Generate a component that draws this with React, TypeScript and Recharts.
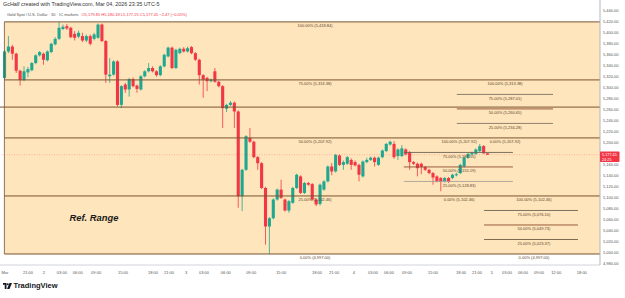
import React from 'react';
import {
  ComposedChart,
  Bar,
  XAxis,
  YAxis,
  ReferenceArea,
  ReferenceLine,
  ReferenceDot,
} from 'recharts';

// 30m candles (oldest first)
const opens = [
  5317, 5365, 5374, 5361, 5330, 5313, 5327, 5331, 5344, 5358, 5361, 5349, 5364, 5378, 5388, 5406, 5411, 5408, 5397, 5392,
  5393, 5385, 5393, 5388, 5390, 5414, 5384, 5320, 5323, 5347, 5268, 5305, 5296, 5315, 5303, 5296, 5320, 5329, 5335, 5329,
  5322, 5338, 5356, 5372, 5335, 5362, 5370, 5365, 5373, 5362, 5350, 5322, 5317, 5311, 5329, 5310, 5302, 5261, 5268, 5272,
  5256, 5102, 5150, 5208, 5201, 5173, 5162, 5117, 5047, 5062, 5096, 5114, 5096, 5076, 5090, 5117, 5138, 5108, 5126, 5124,
  5096, 5088, 5114, 5129, 5156, 5147, 5176, 5159, 5161, 5168, 5164, 5159, 5138, 5164, 5168, 5172, 5159, 5173, 5184, 5196,
  5197, 5175, 5175, 5187, 5182, 5164, 5161, 5161, 5155, 5150, 5144, 5138, 5135, 5129, 5135, 5135, 5140, 5144, 5156, 5172,
  5178, 5179, 5184, 5193, 5179.85,
];
const highs = [
  5368, 5393, 5377, 5363, 5332, 5338, 5337, 5346, 5360, 5366, 5363, 5367, 5381, 5391, 5418.84, 5414, 5415, 5410, 5402, 5403,
  5399, 5396, 5396, 5399, 5416, 5416, 5386, 5353, 5349, 5349, 5304, 5308, 5317, 5318, 5305, 5322, 5331, 5344, 5338, 5331,
  5340, 5361, 5374, 5374, 5370, 5372, 5373, 5374, 5375, 5364, 5352, 5324, 5319, 5316, 5335, 5312, 5304, 5270, 5275, 5274,
  5258, 5152, 5213, 5226, 5203, 5175, 5164, 5119, 5064, 5098, 5116, 5132, 5098, 5095, 5119, 5143, 5140, 5128, 5128, 5126,
  5098, 5125, 5131, 5158, 5162, 5179, 5178, 5167, 5175, 5171, 5167, 5161, 5167, 5172, 5174, 5174, 5174, 5187, 5199, 5203,
  5202, 5189, 5195, 5189, 5184, 5166, 5163, 5163, 5157, 5152, 5146, 5140, 5137, 5137, 5137, 5143, 5145, 5161, 5174, 5181,
  5183, 5189, 5197, 5195, 5180.18,
];
const lows = [
  5314, 5362, 5350, 5326, 5303, 5311, 5318, 5329, 5342, 5356, 5341, 5347, 5362, 5376, 5386, 5404, 5404, 5389, 5385, 5389,
  5382, 5382, 5376, 5385, 5388, 5382, 5308, 5308, 5321, 5265, 5262, 5290, 5283, 5300, 5290, 5294, 5318, 5327, 5327, 5319,
  5320, 5336, 5354, 5333, 5333, 5360, 5363, 5363, 5360, 5348, 5305, 5281, 5293, 5309, 5308, 5300, 5226, 5255, 5266, 5226,
  5081, 5075, 5148, 5199, 5171, 5150, 5115, 5014, 4997, 5060, 5094, 5097, 5074, 5072, 5088, 5115, 5106, 5106, 5121, 5094,
  5084, 5085, 5112, 5127, 5140, 5145, 5157, 5150, 5159, 5150, 5156, 5129, 5136, 5162, 5166, 5156, 5157, 5171, 5182, 5194,
  5170, 5168, 5173, 5176, 5150, 5159, 5138, 5142, 5148, 5142, 5123, 5127, 5111, 5127, 5126, 5133, 5138, 5142, 5154, 5170,
  5176, 5177, 5182, 5179, 5177.25,
];
const closes = [
  5365, 5374, 5361, 5330, 5313, 5329, 5333, 5344, 5358, 5364, 5350, 5365, 5379, 5388, 5408, 5410, 5407, 5391, 5390, 5399,
  5385, 5393, 5379, 5396, 5414, 5384, 5323, 5323, 5347, 5268, 5302, 5296, 5315, 5302, 5297, 5320, 5329, 5335, 5329, 5322,
  5338, 5359, 5372, 5335, 5368, 5370, 5365, 5371, 5362, 5350, 5322, 5314, 5311, 5314, 5310, 5302, 5262, 5268, 5272, 5256,
  5102, 5150, 5211, 5201, 5173, 5162, 5117, 5047, 5062, 5096, 5114, 5099, 5076, 5093, 5117, 5141, 5108, 5126, 5123, 5096,
  5087, 5123, 5129, 5156, 5147, 5177, 5159, 5164, 5173, 5159, 5158, 5141, 5165, 5168, 5172, 5164, 5172, 5185, 5197, 5201,
  5173, 5187, 5189, 5178, 5164, 5161, 5153, 5155, 5150, 5144, 5136, 5129, 5128, 5135, 5128, 5141, 5142, 5159, 5172, 5179,
  5181, 5187, 5193, 5180, 5177.45,
];

// time axis labels and the bar index they sit on
const timeTickAt = [
  0, 5.9, 10, 14.6, 18.7, 23.4, 30.3, 38, 42.1, 46.5, 51.1, 56.7, 63.2, 70.9, 80.1, 84.5, 89.6, 94.5, 98.6, 103.2, 109.9,
  117.1, 121.2, 125, 128.9, 133, 137.1, 141.5, 148.1,
];
const timeTickLabels = [
  'Mar', '21:00', '2', '03:00', '06:00', '09:00', '15:00', '18:00', '21:00', '3', '03:00', '06:00', '09:00', '15:00',
  '18:00', '21:00', '4', '03:00', '06:00', '09:00', '15:00', '18:00', '21:00', '5', '03:00', '06:00', '09:00', '12:00',
  '18:00',
];
const priceTicks = [
  4980, 5000, 5020, 5040, 5060, 5080, 5100, 5120, 5140, 5160, 5200, 5220, 5240, 5260, 5280, 5300, 5320, 5340, 5360, 5380,
  5400, 5420, 5440,
];

// fib retracement drawings
const fibPercents = ['100.00%', '75.00%', '50.00%', '25.00%', '0.00%'];
const refLevels = [5418.84, 5313.38, 5207.92, 5102.46, 4997.0];
const upperLevels = [5313.38, 5287.01, 5260.65, 5234.28, 5207.92];
const middleLevels = [5207.92, 5181.55, 5155.19, 5128.83, 5102.46];
const lowerLevels = [5102.46, 5076.1, 5049.73, 5023.37, 4997.0];
const horizontalLine = 5264;
const lastPrice = 5177.45;

const UP = '#1fa88f';
const DOWN = '#f23645';
const FIB_FILL = '#ffe5bb';
const FIB_LINE = '#7a5330';
const INNER_COLORS = ['#7d7263', '#8c4d2e', '#85776a'];
const LABEL = '#5a4430';
const FONT = '"Liberation Sans", Arial, sans-serif';

const X_MIN = -1.28;
const X_MAX = 152.76;
const Y_MIN = 4977;
const Y_MAX = 5458.6;

const data = opens.map((open, i) => ({
  i,
  open,
  high: highs[i],
  low: lows[i],
  close: closes[i],
}));

const fmt = (v: number) =>
  v.toLocaleString('en-US', { minimumFractionDigits: 2, maximumFractionDigits: 2 });

const Candle = (props: any) => {
  const { x, y, width, height, payload } = props;
  if (!payload) return null;
  const { open, close, high, low } = payload;
  const color = close >= open ? UP : DOWN;
  const top = Math.min(y, y + height);
  const h = Math.abs(height);
  const cx = x + width / 2;
  const ratio = h / (high - low || 1);
  const bodyTop = top + (high - Math.max(open, close)) * ratio;
  const bodyBottom = top + (high - Math.min(open, close)) * ratio;
  return (
    <g>
      <line x1={cx} x2={cx} y1={top} y2={top + h} stroke={color} strokeWidth={0.8} />
      <rect x={cx - 1.55} y={bodyTop} width={3.1} height={Math.max(bodyBottom - bodyTop, 0.9)} fill={color} />
    </g>
  );
};

const labelShape = (text: string) => (props: any) => (
  <text x={props.cx} y={props.cy + 5.3} textAnchor="middle" fontSize={4} fill={LABEL} fontFamily={FONT}>
    {text}
  </text>
);

// one small fib: inner level lines plus labels for every level
function fibGroup(key: string, levels: number[], x1: number, x2: number, labelX: number, innerColors = INNER_COLORS) {
  const items: React.ReactNode[] = [];
  levels.forEach((lvl, k) => {
    if (k > 0 && k < levels.length - 1) {
      items.push(
        <ReferenceLine
          key={`${key}-l${k}`}
          segment={[{ x: x1, y: lvl }, { x: x2, y: lvl }]}
          stroke={innerColors[k - 1]}
          strokeWidth={0.9}
          ifOverflow="visible"
        />
      );
    }
    items.push(
      <ReferenceDot
        key={`${key}-t${k}`}
        x={labelX}
        y={lvl}
        r={0}
        ifOverflow="visible"
        shape={labelShape(`${fibPercents[k]} (${fmt(lvl)})`)}
      />
    );
  });
  return items;
}

export default function App() {
  return (
    <div style={{ position: 'absolute', left: 0, top: 0, width: 625, height: 298, background: '#fff', fontFamily: FONT }}>
      <ComposedChart
        width={625}
        height={298}
        data={data}
        margin={{ top: 0, right: 0, bottom: 0, left: 0 }}
        style={{ position: 'absolute', left: 0, top: 0 }}
      >
        <XAxis
          type="number"
          dataKey="i"
          domain={[X_MIN, X_MAX]}
          allowDataOverflow
          ticks={timeTickAt}
          interval={0}
          tickFormatter={(v: number) => timeTickLabels[timeTickAt.indexOf(v)] ?? ''}
          tickLine={false}
          tickSize={2}
          tickMargin={4}
          height={33}
          axisLine={{ stroke: '#d1d4dc' }}
          tick={{ fontSize: 4, fill: '#555', fontFamily: FONT }}
        />
        <YAxis
          orientation="right"
          type="number"
          domain={[Y_MIN, Y_MAX]}
          allowDataOverflow
          ticks={priceTicks}
          interval={0}
          tickFormatter={fmt}
          width={25}
          tickLine={false}
          tickSize={1}
          tickMargin={2}
          axisLine={{ stroke: '#b2b5be' }}
          tick={{ fontSize: 4, fill: '#555', fontFamily: FONT }}
        />
        <ReferenceArea
          x1={-0.15}
          x2={X_MAX}
          y1={refLevels[4]}
          y2={refLevels[0]}
          fill={FIB_FILL}
          fillOpacity={1}
          stroke="none"
          ifOverflow="visible"
        />
        {refLevels.map((lvl, k) => (
          <ReferenceLine
            key={`ref-${k}`}
            segment={[{ x: -0.15, y: lvl }, { x: X_MAX, y: lvl }]}
            stroke={FIB_LINE}
            strokeWidth={1}
            ifOverflow="visible"
          />
        ))}
        <ReferenceLine
          segment={[{ x: -0.15, y: refLevels[4] }, { x: -0.15, y: refLevels[0] }]}
          stroke={FIB_LINE}
          strokeWidth={0.8}
          ifOverflow="visible"
        />
        <ReferenceLine y={horizontalLine} stroke={FIB_LINE} strokeWidth={1} ifOverflow="visible" />
        <ReferenceLine
          y={lastPrice}
          stroke={DOWN}
          strokeOpacity={0.5}
          strokeWidth={0.6}
          strokeDasharray="1 1.5"
          ifOverflow="visible"
        />
        {fibGroup('upper', upperLevels, 116, 140.7, 128.4)}
        {fibGroup('middle', middleLevels, 102.4, 130.4, 116.6, ['#6e6458', '#8c4d2e', '#aaa398'])}
        {fibGroup('lower', lowerLevels, 123, 147.1, 135.8, ['#6e6458', '#8c4d2e', '#6f5a45'])}
        {refLevels.map((lvl, k) => (
          <ReferenceDot
            key={`ref-t${k}`}
            x={79.6}
            y={lvl}
            r={0}
            ifOverflow="visible"
            shape={labelShape(`${fibPercents[k]} (${fmt(lvl)})`)}
          />
        ))}
        <ReferenceDot
          x={22.85}
          y={5057}
          r={0}
          ifOverflow="visible"
          shape={(p: any) => (
            <text
              x={p.cx}
              y={p.cy}
              textAnchor="middle"
              fontSize={9.4}
              fontWeight="bold"
              fontStyle="italic"
              fill="#1a1a1a"
              fontFamily={FONT}
            >
              Ref. Range
            </text>
          )}
        />
        <Bar
          dataKey={(d: any) => [d.low, d.high]}
          barSize={3}
          shape={Candle}
          isAnimationActive={false}
        />
        <ReferenceDot
          x={X_MAX}
          y={lastPrice}
          r={0}
          ifOverflow="visible"
          shape={(p: any) => (
            <g>
              <rect x={p.cx} y={p.cy - 3.2} width={19.5} height={10.5} fill={DOWN} rx={0.8} />
              <text x={p.cx + 2} y={p.cy + 1.3} fontSize={3.8} fill="#fff" fontFamily={FONT}>
                {fmt(lastPrice)}
              </text>
              <text x={p.cx + 2} y={p.cy + 5.8} fontSize={3.8} fill="#fff" fontFamily={FONT}>
                24:25
              </text>
            </g>
          )}
        />
      </ComposedChart>
      <div style={{ position: 'absolute', left: 3, top: 1, fontSize: 5.4, color: '#333', whiteSpace: 'nowrap' }}>
        GcHalf created with TradingView.com, Mar 04, 2026 23:35 UTC-5
      </div>
      <div style={{ position: 'absolute', left: 7, top: 12, fontSize: 4, color: '#555', whiteSpace: 'nowrap' }}>
        Gold Spot / U.S. Dollar · 30 · IC markets{' '}
        <span style={{ color: DOWN, marginLeft: 2 }}>
          O5,179.85 H5,180.18 L5,177.25 C5,177.45 −2.47 (−0.05%)
        </span>
      </div>
      <div style={{ position: 'absolute', left: 3, top: 281, display: 'flex', alignItems: 'center', whiteSpace: 'nowrap' }}>
        <svg width={9} height={6} viewBox="0 0 36 24" style={{ marginRight: 1.5 }}>
          <path d="M0 0h14v24H7V7H0z" fill="#131722" />
          <circle cx={19} cy={5} r={4} fill="#131722" />
          <path d="M26 0h10L26 24H16z" fill="#131722" />
        </svg>
        <span style={{ fontSize: 7.5, fontWeight: 'bold', color: '#131722' }}>TradingView</span>
      </div>
    </div>
  );
}
